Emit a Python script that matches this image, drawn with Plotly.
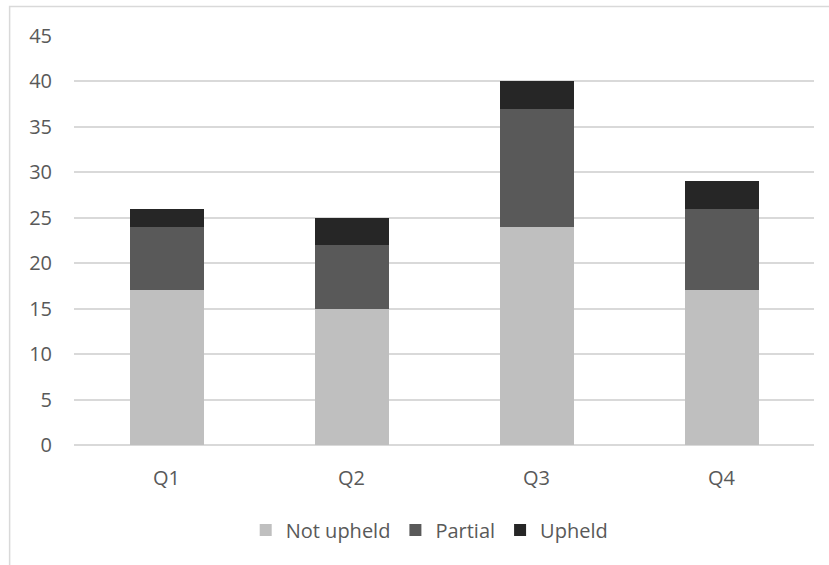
import plotly.graph_objects as go

quarters = ["Q1", "Q2", "Q3", "Q4"]
not_upheld = [17, 15, 24, 17]
partial = [7, 7, 13, 9]
upheld = [2, 3, 3, 3]
y_ticks = [0, 5, 10, 15, 20, 25, 30, 35, 40, 45]

series = [
    ("Not upheld", not_upheld, "#BFBFBF"),
    ("Partial", partial, "#595959"),
    ("Upheld", upheld, "#262626"),
]

fig = go.Figure()
for name, vals, color in series:
    fig.add_trace(go.Bar(x=quarters, y=vals, name=name, marker_color=color,
                         marker_line_width=0))

text_font = dict(family="Open Sans", size=20, color="#595959")

fig.update_layout(
    barmode="stack",
    bargap=0.6,
    width=829, height=565,
    margin=dict(l=74, r=15, t=36, b=120),
    paper_bgcolor="white",
    plot_bgcolor="white",
    font=text_font,
    showlegend=True,
    legend=dict(orientation="h", x=0.48, xanchor="center", y=-0.208, yanchor="middle",
                font=text_font, traceorder="normal", itemwidth=30),
    yaxis=dict(range=[0, 45], tickvals=y_ticks, showgrid=True, gridcolor="#D9D9D9",
               gridwidth=1.5, zeroline=True, zerolinecolor="#D9D9D9", zerolinewidth=1.5,
               showline=False, ticks="", ticklabelstandoff=21, tickfont=text_font),
    xaxis=dict(showline=False, ticks="", ticklabelstandoff=19, tickfont=text_font),
    shapes=[dict(type="rect", xref="paper", yref="paper", x0=-0.087, x1=1.2,
                 y0=-0.5, y1=1.072, line=dict(color="#D9D9D9", width=1.5),
                 fillcolor="rgba(0,0,0,0)", layer="below")],
)

fig.write_html("out.html")
